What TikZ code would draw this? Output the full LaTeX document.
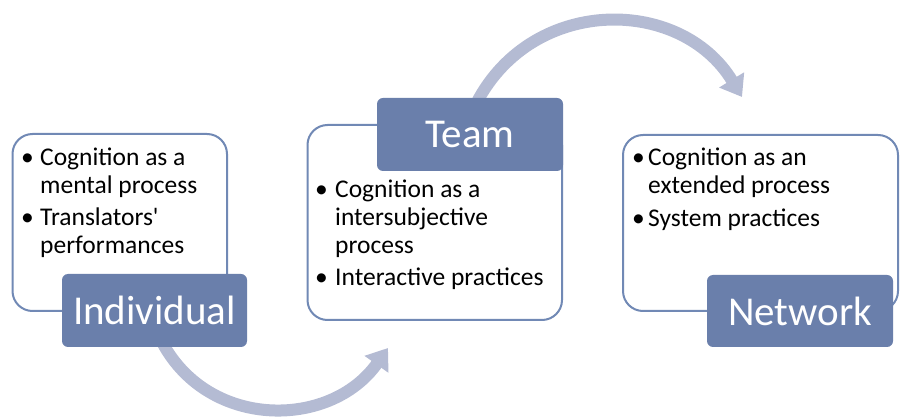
\documentclass[tikz,border=0pt]{standalone}
\usepackage{fontspec}
\setmainfont{Carlito}
\usetikzlibrary{arrows.meta}
\definecolor{tagfill}{HTML}{6A7FAB}
\definecolor{panelline}{HTML}{7189B5}
\definecolor{flow}{HTML}{B4BBD3}
\newcommand{\bul}[1]{\makebox[#1][l]{\textbullet}}
\begin{document}
\begin{tikzpicture}[x=1pt,y=-1pt,
  panel/.style={draw=panelline, line width=2pt, fill=white, rounded corners=20pt, inner sep=0pt},
  tag/.style={fill=tagfill, rounded corners=6pt, inner sep=0pt, text=white,
              font=\fontsize{41}{45}\selectfont},
  points/.style={anchor=north west, inner sep=0pt, align=left, text=black,
                 font=\fontsize{25.5}{28}\selectfont},
  flowarrow/.style={draw=flow, line width=12pt, -{Triangle[width=28pt,length=20pt]}}]
\useasboundingbox (0,0) rectangle (900,419);

% curved flow arrows (drawn first, so the tags cover their tails)
\coordinate (lowstart) at (160,338);
\coordinate (lowend) at (388,348);
\coordinate (highstart) at (474,108);
\coordinate (highend) at (742,97);
\draw[flowarrow] (lowstart) .. controls (205,430) and (330,430) .. (lowend);
\draw[flowarrow] (highstart) .. controls (528,-5) and (680,-5) .. (highend);

% white panels
\node[panel, minimum width=214.5pt, minimum height=177pt] (indpanel) at (119.75,222.5) {};
\node[panel, minimum width=254.5pt, minimum height=195pt] (teampanel) at (434.75,222.5) {};
\node[panel, minimum width=275pt, minimum height=176pt] (netpanel) at (760.5,223) {};

% panel texts
\node[points] (indtext) at (21,145) {\rule{0pt}{20pt}\bul{19pt}Cognition as a\\
  \hspace*{19pt}mental process\\[4pt]
  \bul{19pt}Translators\textquotesingle\\
  \hspace*{19pt}performances};
\node[points] (teamtext) at (315,177) {\rule{0pt}{20pt}\bul{20pt}Cognition as a\\
  \hspace*{20pt}intersubjective\\
  \hspace*{20pt}process\\[4pt]
  \bul{20pt}Interactive practices};
\node[points] (nettext) at (632,145) {\rule{0pt}{20pt}\bul{16pt}Cognition as an\\
  \hspace*{16pt}extended process\\[5pt]
  \bul{16pt}System practices};

% dark tags
\node[tag, minimum width=185pt, minimum height=73pt] (individual) at (154.5,310.5) {Individual};
\node[tag, minimum width=186pt, minimum height=73pt] (team) at (470,134.5) {Team};
\node[tag, minimum width=186pt, minimum height=72pt] (network) at (800,311) {Network};
\end{tikzpicture}
\end{document}
